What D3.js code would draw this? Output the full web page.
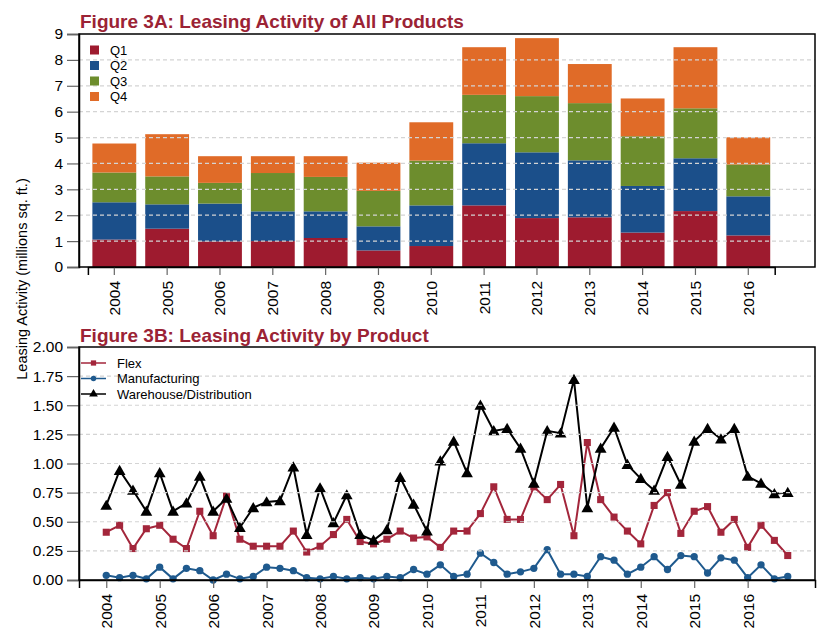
<!DOCTYPE html>
<html>
<head>
<meta charset="utf-8">
<script src="https://cdnjs.cloudflare.com/ajax/libs/d3/7.8.5/d3.min.js"></script>
<style>
  body { margin: 0; background: #fff; }
  svg text { font-family: "Liberation Sans", Arial, sans-serif; }
</style>
</head>
<body>
<svg id="chart" width="836" height="640"></svg>
<script>
// Figure 3A: annual leasing by quarter (millions sq. ft.)
const years = [2004, 2005, 2006, 2007, 2008, 2009, 2010, 2011, 2012, 2013, 2014, 2015, 2016];
const q1 = [1.06, 1.48, 0.99, 1.00, 1.12, 0.64, 0.81, 2.38, 1.89, 1.92, 1.33, 2.16, 1.22];
const q2 = [1.44, 0.94, 1.46, 1.15, 1.03, 0.93, 1.57, 2.40, 2.54, 2.20, 1.80, 2.04, 1.51];
const q3 = [1.15, 1.08, 0.80, 1.48, 1.33, 1.37, 1.73, 1.87, 2.17, 2.21, 1.92, 1.93, 1.23];
const q4 = [1.12, 1.63, 1.03, 0.65, 0.80, 1.09, 1.48, 1.84, 2.24, 1.51, 1.46, 2.36, 1.05];
const quarterNames = ['Q1', 'Q2', 'Q3', 'Q4'];
const topTicks = [0, 1, 2, 3, 4, 5, 6, 7, 8, 9];

// Figure 3B: quarterly leasing by product, 2004 Q1 .. 2016 Q4
const flex = [0.41, 0.47, 0.27, 0.44, 0.47, 0.35, 0.27, 0.59, 0.38, 0.72, 0.35, 0.29, 0.29, 0.29, 0.42, 0.24,
  0.29, 0.39, 0.52, 0.33, 0.31, 0.35, 0.42, 0.36, 0.37, 0.28, 0.42, 0.42, 0.57, 0.80, 0.52, 0.52,
  0.80, 0.69, 0.82, 0.38, 1.18, 0.69, 0.54, 0.42, 0.31, 0.64, 0.75, 0.40, 0.59, 0.63, 0.41, 0.52,
  0.28, 0.47, 0.34, 0.21];
const manufacturing = [0.04, 0.02, 0.04, 0.01, 0.11, 0.01, 0.10, 0.08, 0.00, 0.05, 0.01, 0.03, 0.11, 0.10, 0.08, 0.02,
  0.01, 0.03, 0.01, 0.02, 0.01, 0.03, 0.02, 0.09, 0.05, 0.13, 0.03, 0.05, 0.23, 0.15, 0.05, 0.07,
  0.10, 0.26, 0.05, 0.05, 0.03, 0.20, 0.17, 0.05, 0.11, 0.20, 0.09, 0.21, 0.20, 0.06, 0.19, 0.17,
  0.02, 0.13, 0.01, 0.03];
const warehouse = [0.64, 0.94, 0.77, 0.59, 0.92, 0.59, 0.66, 0.89, 0.59, 0.70, 0.45, 0.62, 0.67, 0.68, 0.97, 0.39,
  0.79, 0.49, 0.73, 0.39, 0.34, 0.43, 0.88, 0.65, 0.42, 1.02, 1.19, 0.92, 1.50, 1.28, 1.30, 1.13,
  0.83, 1.28, 1.26, 1.72, 0.62, 1.13, 1.31, 0.99, 0.87, 0.77, 1.06, 0.82, 1.19, 1.30, 1.21, 1.30,
  0.89, 0.83, 0.74, 0.75];
const productNames = ['Flex', 'Manufacturing', 'Warehouse/Distribution'];
const bottomTicks = [0, 0.25, 0.5, 0.75, 1, 1.25, 1.5, 1.75, 2];

const titleColor = '#9b2335';
const quarterColors = ['#9e1b2f', '#1b4f8a', '#6d8d2d', '#e06b28'];
const productColors = ['#a3263b', '#1f5a8e', '#000000'];
const gridColor = '#d4d4d4';

const svg = d3.select('#chart');
const left = 79, right = 815;

// ---------- Figure 3A ----------
const topY0 = 267, topY1 = 34;
const xBand = d3.scaleBand()
  .domain(years)
  .range([87.9, 774.7])
  .paddingInner(0.17)
  .paddingOuter(0.085);
const yTop = d3.scaleLinear().domain([0, 9]).range([topY0, topY1]);

const stackData = years.map((yr, i) => ({ year: yr, Q1: q1[i], Q2: q2[i], Q3: q3[i], Q4: q4[i] }));
const stacked = d3.stack().keys(quarterNames)(stackData);

const gTop = svg.append('g');
stacked.forEach((layer, k) => {
  gTop.append('g')
    .selectAll('rect')
    .data(layer)
    .enter()
    .append('rect')
    .attr('x', d => xBand(d.data.year))
    .attr('width', xBand.bandwidth())
    .attr('y', d => yTop(d[1]))
    .attr('height', d => yTop(d[0]) - yTop(d[1]))
    .attr('fill', quarterColors[k]);
});

// grid on top of the bars
gTop.append('g')
  .selectAll('line')
  .data(topTicks.filter(t => t > 0 && t < 9))
  .enter()
  .append('line')
  .attr('x1', left).attr('x2', right)
  .attr('y1', d => yTop(d)).attr('y2', d => yTop(d))
  .attr('stroke', gridColor)
  .attr('stroke-width', 1.2)
  .attr('stroke-dasharray', '4,3');

// axes
gTop.append('g')
  .attr('transform', `translate(${left},0)`)
  .call(d3.axisLeft(yTop).tickValues(topTicks).tickFormat(d3.format('d')).tickSize(12).tickPadding(4));
const xAxisTop = gTop.append('g')
  .attr('transform', `translate(0,${topY0})`)
  .call(d3.axisBottom(xBand).tickSize(8).tickPadding(6));
xAxisTop.selectAll('text')
  .attr('transform', 'rotate(-90)')
  .attr('text-anchor', 'end')
  .attr('x', -14)
  .attr('y', 0)
  .attr('dy', '0.35em');

// frame
gTop.append('rect')
  .attr('x', left).attr('y', topY1)
  .attr('width', right - left).attr('height', topY0 - topY1)
  .attr('fill', 'none').attr('stroke', '#000').attr('stroke-width', 1.5);

// legend
const legTop = gTop.append('g');
quarterNames.forEach((q, k) => {
  const cy = 50 + k * 15.5;
  legTop.append('rect')
    .attr('x', 90).attr('y', cy - 4.5)
    .attr('width', 9).attr('height', 9)
    .attr('fill', quarterColors[k]);
  legTop.append('text')
    .attr('x', 110).attr('y', cy)
    .attr('dy', '0.35em')
    .attr('font-size', 13)
    .text(q);
});

gTop.append('text')
  .attr('x', 80).attr('y', 28)
  .attr('font-size', 19).attr('font-weight', 'bold')
  .attr('fill', titleColor)
  .text('Figure 3A: Leasing Activity of All Products');

// ---------- Figure 3B ----------
const botY0 = 580, botY1 = 347;
const tFirst = 2004, tLast = 2016.75, ext = 0.04 * (tLast - tFirst);
const xTime = d3.scaleLinear().domain([tFirst - ext, tLast + ext]).range([left, right]);
const yBot = d3.scaleLinear().domain([0, 2]).range([botY0, botY1]);
const tOf = i => 2004 + i / 4;

const gBot = svg.append('g');
const series = [flex, manufacturing, warehouse];
const symbols = [d3.symbolSquare, d3.symbolCircle, d3.symbolTriangle];
const symbolSizes = [50, 42, 60];

const line = d3.line()
  .x((d, i) => xTime(tOf(i)))
  .y(d => yBot(d));

series.forEach((vals, k) => {
  gBot.append('path')
    .datum(vals)
    .attr('d', line)
    .attr('fill', 'none')
    .attr('stroke', productColors[k])
    .attr('stroke-width', 2);
  gBot.append('g')
    .selectAll('path')
    .data(vals)
    .enter()
    .append('path')
    .attr('transform', (d, i) => `translate(${xTime(tOf(i))},${yBot(d) + (k === 2 ? 1 : 0)})`)
    .attr('d', d3.symbol().type(symbols[k]).size(symbolSizes[k]))
    .attr('fill', productColors[k]);
});

// grid on top
gBot.append('g')
  .selectAll('line')
  .data(bottomTicks.filter(t => t > 0 && t < 2))
  .enter()
  .append('line')
  .attr('x1', left).attr('x2', right)
  .attr('y1', d => yBot(d)).attr('y2', d => yBot(d))
  .attr('stroke', gridColor)
  .attr('stroke-width', 1.2)
  .attr('stroke-dasharray', '4,3');

gBot.append('g')
  .attr('transform', `translate(${left},0)`)
  .call(d3.axisLeft(yBot).tickValues(bottomTicks).tickFormat(d3.format('.2f')).tickSize(12).tickPadding(4));
const xAxisBot = gBot.append('g')
  .attr('transform', `translate(0,${botY0})`)
  .call(d3.axisBottom(xTime).tickValues(years).tickFormat(d3.format('d')).tickSize(8).tickPadding(6));
xAxisBot.selectAll('text')
  .attr('transform', 'rotate(-90)')
  .attr('text-anchor', 'end')
  .attr('x', -14)
  .attr('y', 0)
  .attr('dy', '0.35em');

gBot.append('rect')
  .attr('x', left).attr('y', botY1)
  .attr('width', right - left).attr('height', botY0 - botY1)
  .attr('fill', 'none').attr('stroke', '#000').attr('stroke-width', 1.5);

const legBot = gBot.append('g');
productNames.forEach((name, k) => {
  const cy = 363 + k * 15.5;
  legBot.append('line')
    .attr('x1', 81).attr('x2', 106)
    .attr('y1', cy).attr('y2', cy)
    .attr('stroke', productColors[k]).attr('stroke-width', 1.5);
  legBot.append('path')
    .attr('transform', `translate(93.5,${cy})`)
    .attr('d', d3.symbol().type(symbols[k]).size(symbolSizes[k] * 0.55))
    .attr('fill', productColors[k]);
  legBot.append('text')
    .attr('x', 117).attr('y', cy)
    .attr('dy', '0.35em')
    .attr('font-size', 13)
    .text(name);
});

gBot.append('text')
  .attr('x', 80).attr('y', 342)
  .attr('font-size', 19).attr('font-weight', 'bold')
  .attr('fill', titleColor)
  .text('Figure 3B: Leasing Activity by Product');

// shared axis styling
svg.selectAll('.tick text').attr('font-size', 15.5).attr('fill', '#000');
svg.selectAll('.tick line').attr('stroke', '#666').attr('stroke-width', 1.2);
svg.selectAll('.domain').attr('stroke', '#000').attr('stroke-width', 1.5);

// shared y label
svg.append('text')
  .attr('transform', 'translate(22,279) rotate(-90)')
  .attr('text-anchor', 'middle')
  .attr('dy', '0.35em')
  .attr('font-size', 14.5)
  .text('Leasing Activity (millions sq. ft.)');
</script>
</body>
</html>
